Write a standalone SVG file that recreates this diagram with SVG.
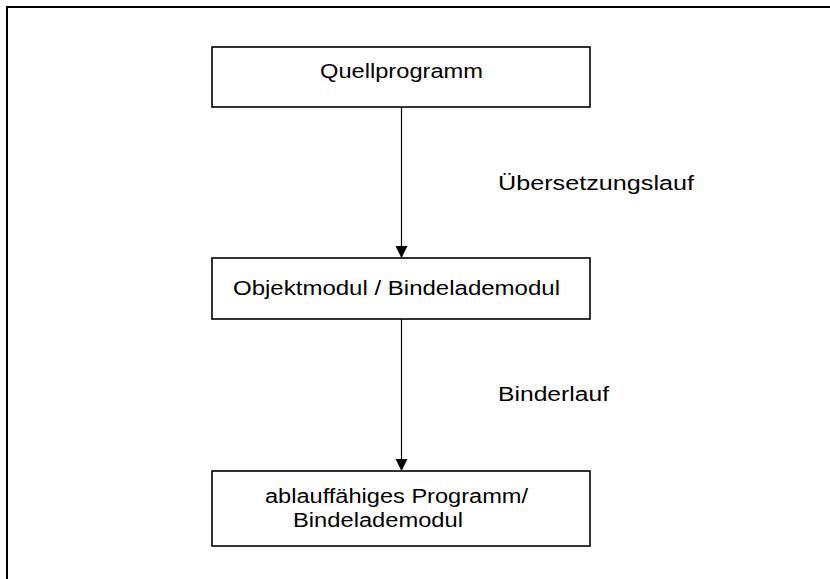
<svg xmlns="http://www.w3.org/2000/svg" width="830" height="579" viewBox="0 0 830 579">
<style>
.frame{stroke:#000;stroke-width:2;fill:none}
.box{fill:#fff;stroke:#000;stroke-width:1.6}
.lbl{font-family:"Liberation Sans",Arial,Helvetica,sans-serif;font-size:20px;fill:#000}
.con{stroke:#000;stroke-width:1.2;fill:none}
</style>
<defs>
<marker id="ah" markerUnits="userSpaceOnUse" markerWidth="14" markerHeight="14" refX="12" refY="6" orient="auto">
<path d="M0,0 L12,6 L0,12 Z" fill="#000"/>
</marker>
</defs>
<rect width="830" height="579" fill="#fff"/>
<path class="frame" d="M6,7 H830 M7,7 V579"/>
<g id="connectors">
<line class="con" x1="401.5" y1="107" x2="401.5" y2="258" marker-end="url(#ah)"/>
<line class="con" x1="401.5" y1="319" x2="401.5" y2="471" marker-end="url(#ah)"/>
<text class="lbl" x="498" y="190" textLength="196" lengthAdjust="spacingAndGlyphs">Übersetzungslauf</text>
<text class="lbl" x="498" y="401" textLength="111" lengthAdjust="spacingAndGlyphs">Binderlauf</text>
</g>
<g id="quellprogramm">
<rect class="box" x="212" y="47" width="378" height="60"/>
<text class="lbl" x="320" y="77.5" textLength="163" lengthAdjust="spacingAndGlyphs">Quellprogramm</text>
</g>
<g id="objektmodul">
<rect class="box" x="212" y="258" width="378" height="61"/>
<text class="lbl" x="233" y="294.5" textLength="327" lengthAdjust="spacingAndGlyphs">Objektmodul / Bindelademodul</text>
</g>
<g id="programm">
<rect class="box" x="212" y="471" width="378" height="75"/>
<text class="lbl" x="265" y="503" textLength="263" lengthAdjust="spacingAndGlyphs">ablauffähiges Programm/</text>
<text class="lbl" x="293" y="527" textLength="170" lengthAdjust="spacingAndGlyphs">Bindelademodul</text>
</g>
</svg>
